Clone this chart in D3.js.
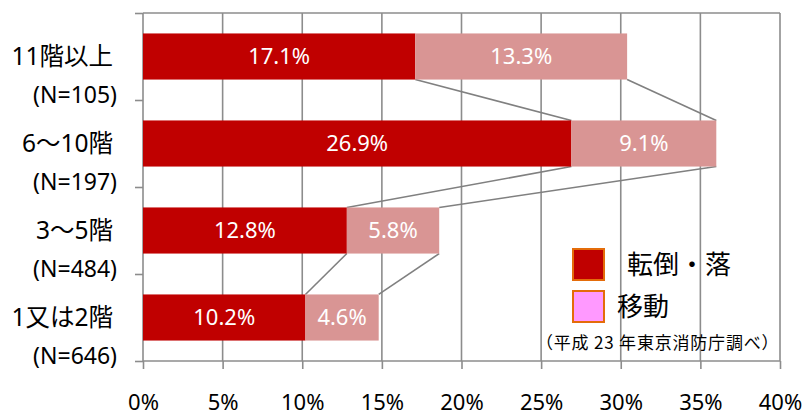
<!DOCTYPE html>
<html>
<head>
<meta charset="utf-8">
<script src="https://cdn.jsdelivr.net/npm/d3@7"></script>
<style>
  body { margin: 0; background: #fff; }
  svg text { font-family: "Noto Sans", "Noto Sans CJK JP", sans-serif; }
</style>
</head>
<body>
<div id="chart"></div>
<script>
// data
var floors = ["11階以上", "6〜10階", "3〜5階", "1又は2階"];
var counts = ["(N=105)", "(N=197)", "(N=484)", "(N=646)"];
var fall = [17.1, 26.9, 12.8, 10.2];   // 転倒・落
var move = [13.3, 9.1, 5.8, 4.6];      // 移動
var xTicks = [0, 5, 10, 15, 20, 25, 30, 35, 40];

// dimensions
const margin = { top: 13, right: 25, bottom: 55, left: 143 };
const width = 805 - margin.left - margin.right;
const height = 416 - margin.top - margin.bottom;
const gridColor = "#8c8c8c";

var svg = d3.select("#chart")
  .append("svg")
    .attr("width", 805)
    .attr("height", 416)
  .append("g")
    .attr("transform", "translate(" + margin.left + "," + margin.top + ")");

var x = d3.scaleLinear().domain([0, 40]).range([0, width]);
var y = d3.scaleBand().domain(floors).range([0, height])
  .paddingInner(0.47).paddingOuter(0.235);
var yEdge = d3.scaleLinear().domain([0, floors.length]).range([0, height]);

// grid lines
svg.append("g")
  .selectAll("line")
  .data(xTicks.slice(1))
  .enter().append("line")
    .attr("x1", d => x(d)).attr("x2", d => x(d))
    .attr("y1", 0).attr("y2", height)
    .attr("stroke", gridColor).attr("stroke-width", 1.6);
svg.append("line")
  .attr("x1", 0).attr("x2", width).attr("y1", 0).attr("y2", 0)
  .attr("stroke", gridColor).attr("stroke-width", 1.6);

// bottom axis
var xAxis = svg.append("g")
  .attr("transform", "translate(0," + height + ")")
  .call(d3.axisBottom(x).tickValues(xTicks).tickSize(8).tickPadding(25)
    .tickFormat(d => d + "%"));
xAxis.selectAll("line").attr("stroke", gridColor).attr("stroke-width", 1.6);
xAxis.select(".domain").remove();
xAxis.selectAll("text").style("font-size", "22px").attr("fill", "#000");

// left axis
var yAxis = svg.append("g")
  .call(d3.axisLeft(yEdge).ticks(floors.length).tickSize(8).tickFormat(""));
yAxis.selectAll("line").attr("stroke", gridColor).attr("stroke-width", 1.6);
yAxis.select(".domain").remove();
svg.append("line")
  .attr("x1", 0).attr("x2", 0).attr("y1", 0).attr("y2", height)
  .attr("stroke", gridColor).attr("stroke-width", 1.6);
svg.append("line")
  .attr("x1", 0).attr("x2", width).attr("y1", height).attr("y2", height)
  .attr("stroke", gridColor).attr("stroke-width", 1.6);

// connector lines
var links = [];
for (var i = 0; i < floors.length - 1; i++) {
  links.push({ a: fall[i], b: fall[i + 1], i: i });
  links.push({ a: fall[i] + move[i], b: fall[i + 1] + move[i + 1], i: i });
}
svg.append("g")
  .selectAll("line")
  .data(links)
  .enter().append("line")
    .attr("x1", d => x(d.a))
    .attr("y1", d => y(floors[d.i]) + y.bandwidth())
    .attr("x2", d => x(d.b))
    .attr("y2", d => y(floors[d.i + 1]))
    .attr("stroke", "#808080").attr("stroke-width", 1.6);

// bars
var rows = floors.map((f, i) => ({ floor: f, fall: fall[i], move: move[i] }));
var bar = svg.append("g").selectAll("g")
  .data(rows)
  .enter().append("g");

bar.append("rect")
  .attr("x", x(0))
  .attr("y", d => y(d.floor))
  .attr("width", d => x(d.fall) - x(0))
  .attr("height", y.bandwidth())
  .attr("fill", "#C00000");
bar.append("rect")
  .attr("x", d => x(d.fall))
  .attr("y", d => y(d.floor))
  .attr("width", d => x(d.fall + d.move) - x(d.fall))
  .attr("height", y.bandwidth())
  .attr("fill", "#D99594");

bar.append("text")
  .attr("x", d => x(d.fall / 2))
  .attr("y", d => y(d.floor) + y.bandwidth() / 2)
  .attr("dy", "0.36em")
  .attr("text-anchor", "middle")
  .style("font-size", "22px")
  .attr("fill", "#fff")
  .text(d => d.fall.toFixed(1) + "%");
bar.append("text")
  .attr("x", d => x(d.fall + d.move / 2))
  .attr("y", d => y(d.floor) + y.bandwidth() / 2)
  .attr("dy", "0.36em")
  .attr("text-anchor", "middle")
  .style("font-size", "22px")
  .attr("fill", "#fff")
  .text(d => d.move.toFixed(1) + "%");

// category labels
bar.append("text")
  .attr("x", -30)
  .attr("y", d => y(d.floor) + y.bandwidth() / 2)
  .attr("dy", "0.36em")
  .attr("text-anchor", "end")
  .style("font-size", "24.5px")
  .attr("fill", "#000")
  .text(d => d.floor);
bar.append("text")
  .attr("x", -26)
  .attr("y", (d, i) => y(d.floor) + y.bandwidth() / 2 + 38)
  .attr("dy", "0.36em")
  .attr("text-anchor", "end")
  .style("font-size", "23px")
  .attr("fill", "#000")
  .text((d, i) => counts[i]);

// legend
var legend = svg.append("g").attr("transform", "translate(430,236)");
var legendItems = [
  { label: "転倒・落", color: "#C00000", dx: 54, dy: 0 },
  { label: "移動", color: "#FF99FF", dx: 44, dy: 42 }
];
legend.selectAll("rect")
  .data(legendItems)
  .enter().append("rect")
    .attr("x", 0).attr("y", d => d.dy)
    .attr("width", 31).attr("height", 31)
    .attr("fill", d => d.color)
    .attr("stroke", "#E46C0A").attr("stroke-width", 2);
legend.selectAll("text.item")
  .data(legendItems)
  .enter().append("text")
    .attr("class", "item")
    .attr("x", d => d.dx).attr("y", d => d.dy + 16)
    .attr("dy", "0.36em")
    .style("font-size", "26px")
    .style("font-family", "'Noto Sans CJK JP', sans-serif")
    .attr("fill", "#000")
    .text(d => d.label);
legend.append("text")
  .attr("x", -37).attr("y", 94)
  .attr("dy", "0.36em")
  .style("font-size", "17px")
  .style("letter-spacing", "0.8px")
  .style("font-family", "'Noto Sans CJK JP', sans-serif")
  .attr("fill", "#000")
  .text("（平成 23 年東京消防庁調べ）");
</script>
</body>
</html>
